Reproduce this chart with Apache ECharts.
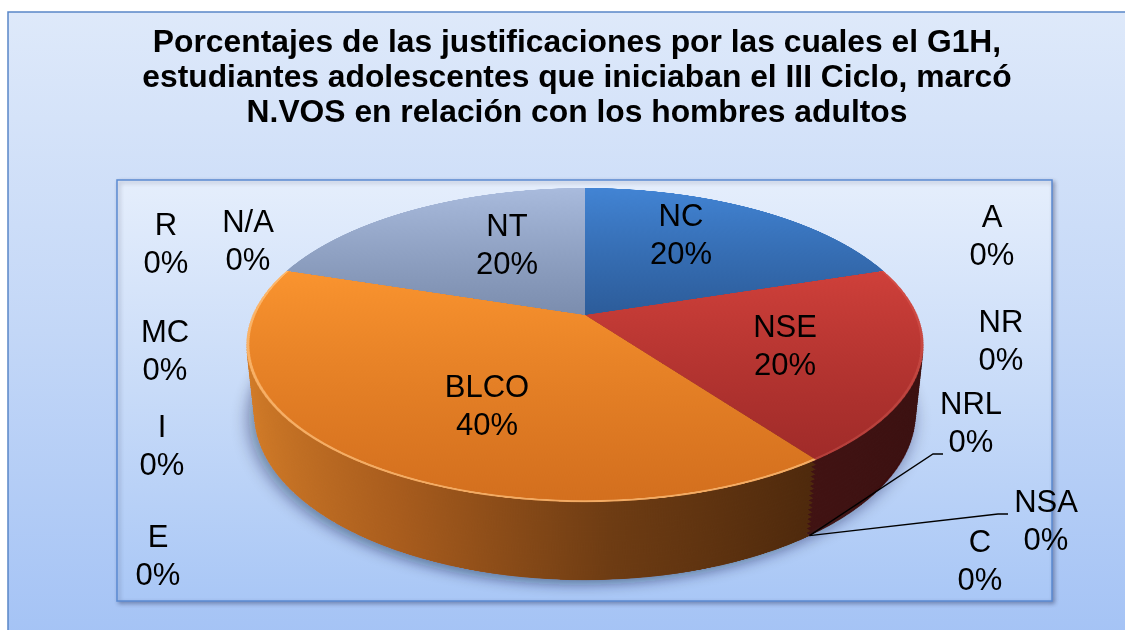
<!DOCTYPE html>
<html><head><meta charset="utf-8">
<script src="https://cdn.jsdelivr.net/npm/echarts@6/dist/echarts.min.js"></script>
<style>
html,body{margin:0;padding:0;width:1125px;height:630px;overflow:hidden;background:#ffffff}
#bg,#stage,#overlay{position:absolute;left:0;top:0;width:1125px;height:630px}
.layer{position:absolute;transform-origin:50% 50%}
</style></head><body>
<div id="bg"></div><div id="stage"></div><div id="overlay"></div>
<script>
// ---------- data ----------
const titleLines = [
  'Porcentajes de las justificaciones por las cuales el G1H,',
  'estudiantes adolescentes que iniciaban el III Ciclo, marcó',
  'N.VOS en relación con los hombres adultos'
];
const categories = ['NC','A','NR','NSE','NRL','NSA','C','BLCO','E','I','MC','R','N/A','NT'];
const values     = [20, 0, 0, 20, 0, 0, 0, 40, 0, 0, 0, 0, 0, 20];

// ---------- styles ----------
const FONT = '"Liberation Sans", Arial, sans-serif';
const topFace = {
  NC:   ['#4284d4', '#2c5c9a'],
  NSE:  ['#cf403a', '#a02b29'],
  BLCO: ['#fa942f', '#d36f1e'],
  NT:   ['#a9bbdd', '#7b8dae']
};
const sideFace = {
  NC:   ['#244a7c', '#1b3a63'],
  NSE:  ['#4a1616', '#3a1010'],
  BLCO: ['#d47d28', '#a85c1d', '#6e3c13', '#4e290c'],
  NT:   ['#64749a', '#55648a']
};
const rimColor = {BLCO:'rgba(255,196,130,0.7)', NSE:'rgba(230,110,100,0.3)'};
// label anchor positions (layout only)
const labelPos = {
  NC:[681,236], NSE:[785,347], BLCO:[487,407], NT:[507,246],
  R:[166,245], 'N/A':[248,242], MC:[165,352], I:[162,447], E:[158,557],
  A:[992,237], NR:[1001,342], NRL:[971,424], NSA:[1046,522], C:[980,562]
};
const leaderFor = ['NRL','NSA'];

// ---------- 3D geometry (perspective view of a tilted disc) ----------
const G = {cx:584.5, cy:315, R:332.3, theta:62.9, d:1548.6, t:77.6};
const K = 1.5, HALF = 360;          // supersampling factor, local half size
const NL = 16;                      // side layers per pass

function lin(stops, horiz) {
  return {type:'linear', x:0, y:0, x2: horiz ? 1 : 0, y2: horiz ? 0 : 1,
    colorStops: stops.map((c,i)=>({offset: i/(stops.length-1), color:c}))};
}

// ---------- background chart ----------
const bgChart = echarts.init(document.getElementById('bg'), null, {width:1125, height:630});
bgChart.setOption({
  animation:false,
  graphic:[
    {type:'rect', shape:{x:8, y:12, width:1140, height:640},
     style:{fill: lin(['#dee9fa','#c3d7f7','#a3c2f5']), stroke:'#5a86c8', lineWidth:1.5}},
    {type:'rect', shape:{x:117, y:180, width:935, height:421},
     style:{fill: lin(['#e5eefc','#c8dbf8','#a9c7f6']), stroke:'#5b8bd2', lineWidth:1.5,
            shadowBlur:4, shadowOffsetX:2, shadowOffsetY:2, shadowColor:'rgba(0,0,40,0.3)'}}
  ]
});

// ---------- which slice faces the viewer (its side is drawn last) ----------
const total = values.reduce((a,b)=>a+b,0);
function startAngleOf(name) {
  let acc = 0;
  for (let k = 0; k < categories.length; k++) { if (categories[k] === name) break; acc += values[k]; }
  return acc / total * 2 * Math.PI;
}
const frontSlice = (function () {
  let acc = 0;
  for (let k = 0; k < categories.length; k++) {
    const a0 = acc / total, a1 = (acc + values[k]) / total;
    if (a0 <= 0.5 && a1 > 0.5) return categories[k];
    acc += values[k];
  }
  return null;
})();

// ---------- pie body: stacked layers seen in perspective ----------
const stage = document.getElementById('stage');
function makeLayer(tk, mode, isBottom) {
  const div = document.createElement('div');
  div.className = 'layer';
  const size = Math.round(2 * HALF * K);
  const c0 = size / 2;
  div.style.width = size + 'px';
  div.style.height = size + 'px';
  div.style.left = (G.cx - c0) + 'px';
  div.style.top = (G.cy - c0) + 'px';
  div.style.transform = 'perspective(' + G.d + 'px) rotateX(' + G.theta + 'deg) translateZ(' + (-tk) + 'px) scale(' + (1 / K) + ')';
  stage.appendChild(div);
  const ch = echarts.init(div, null, {width:size, height:size, renderer:'svg'});
  const isTop = mode === 'top';
  const series = [{
    type:'pie', silent:true, animation:false, radius: G.R * K, center:[c0, c0],
    startAngle:90, clockwise:true, label:{show:false}, labelLine:{show:false},
    data: categories.map((c,k)=>{
      let st;
      if (mode === 'front' && c !== frontSlice) {
        st = {color:'rgba(0,0,0,0)', borderWidth:0};
      } else {
        const cols = (isTop ? topFace[c] : sideFace[c]) || ['#000','#000'];
        st = {color: lin(cols, !isTop), borderWidth:0};
      }
      if (isBottom) { st.shadowBlur = 24; st.shadowOffsetY = 10; st.shadowOffsetX = -6; st.shadowColor = 'rgba(0,20,60,0.45)'; }
      return {name:c, value:values[k], itemStyle:st};
    })
  }];
  if (isTop) {
    series.push({
      type:'pie', silent:true, animation:false, radius:[G.R * K - 4, G.R * K], center:[c0, c0],
      startAngle:90, clockwise:true, label:{show:false}, labelLine:{show:false},
      data: categories.map((c,k)=>({name:c, value:values[k],
        itemStyle:{color: rimColor[c] || 'rgba(0,0,0,0)', borderWidth:0}}))
    });
  }
  ch.setOption({animation:false, series});
}
for (let i = NL; i >= 1; i--) makeLayer(G.t * i / NL, 'all', i === NL);
for (let i = NL; i >= 1; i--) makeLayer(G.t * i / NL, 'front', false);
makeLayer(0, 'top', false);

// ---------- projection used for leader-line anchors ----------
function project(angle, depth) {
  const th = G.theta * Math.PI / 180;
  const x = G.R * Math.sin(angle), y = -G.R * Math.cos(angle), z = -depth;
  const y2 = Math.cos(th) * y - Math.sin(th) * z;
  const z2 = Math.sin(th) * y + Math.cos(th) * z;
  const f = G.d / (G.d - z2);
  return [G.cx + x * f, G.cy + y2 * f];
}
const leaders = leaderFor.map(name=>{
  const p0 = project(startAngleOf(name), G.t);
  const lp = labelPos[name];
  const end = name === 'NRL' ? [lp[0]-28, lp[1]+30] : [lp[0]-38, lp[1]-8];
  const elbow = [end[0]-10, end[1]];
  return {type:'polyline', silent:true, z:10, shape:{points:[p0, elbow, end]},
          style:{stroke:'#000', lineWidth:1.3, fill:null}};
});

// ---------- title, labels, leader lines ----------
const overlayChart = echarts.init(document.getElementById('overlay'), null, {width:1125, height:630});
overlayChart.setOption({
  animation:false,
  title:{
    text: titleLines.join('\n'), left: 572, top: 21, textAlign:'center',
    textStyle:{fontFamily:FONT, fontWeight:'bold', fontSize:31.8, lineHeight:35, color:'#000'}
  },
  graphic: leaders,
  series:[{
    type:'pie', silent:true, animation:false, radius:[0, 60], center:[G.cx, G.cy],
    startAngle:90, clockwise:true,
    itemStyle:{color:'rgba(0,0,0,0)', borderWidth:0},
    label:{show:true, position:'outside', fontFamily:FONT, fontSize:31, lineHeight:38, color:'#000',
      formatter: p => p.name + '\n' + Math.round(p.percent) + '%'},
    labelLine:{show:false},
    labelLayout: function (params) {
      const pos = labelPos[categories[params.dataIndex]];
      return {x: pos[0], y: pos[1], align:'center', verticalAlign:'middle'};
    },
    data: categories.map((c,k)=>({name:c, value:values[k]}))
  }]
});
</script>
</body></html>
